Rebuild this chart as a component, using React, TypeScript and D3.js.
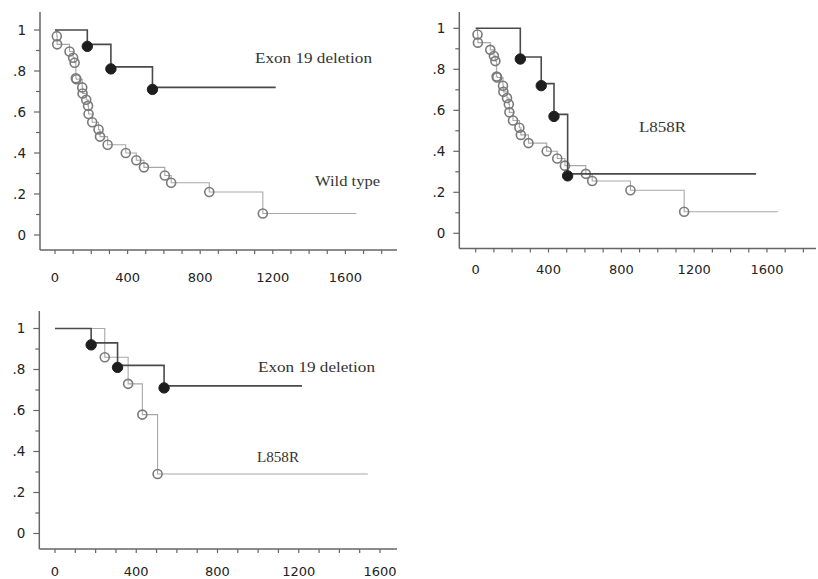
import React, { useEffect, useRef } from "react";
import * as d3 from "d3";

// survival curves (days, cumulative survival)
const wildTimes = [10, 12, 80, 100, 108, 115, 118, 150, 152, 172, 182, 185, 205, 240, 248, 290, 390, 448, 490, 605, 640, 850, 1145];
const wildSurv = [0.97, 0.93, 0.895, 0.865, 0.84, 0.765, 0.76, 0.72, 0.69, 0.66, 0.63, 0.59, 0.55, 0.515, 0.48, 0.44, 0.4, 0.365, 0.33, 0.29, 0.255, 0.21, 0.105];
const wildEnd = 1660;

const exonTimes = [178, 308, 537];
const exonSurv = [0.93, 0.82, 0.72];
const exonEnd = 1216;

const l858Times = [245, 360, 430, 505];
const l858Surv = [0.86, 0.73, 0.58, 0.29];
const l858End = 1540;

const yTicks = d3.range(0, 11).map(i => i / 10);
const yLabels = [0, 0.2, 0.4, 0.6, 0.8, 1];
const xLabels = [0, 400, 800, 1200, 1600];

const fmtY = (v: number) => (v === 0 ? "0" : v === 1 ? "1" : String(v).replace(/^0/, ""));

const DARK = "#4a4a4a";
const GREY = "#a8a8a8";

type Curve = { times: number[]; surv: number[]; end: number; style: "filled" | "open" | "openGrey" };
type Label = { text: string; x: number; y: number; w: number };

const panels = [
  {
    xMax: 1800, xr: [55, 381.7], axX: [40, 397], yr: [235, 30], axYTop: 12, axYBottom: 250, xLabY: 282,
    curves: [
      { times: wildTimes, surv: wildSurv, end: wildEnd, style: "open" },
      { times: exonTimes, surv: exonSurv, end: exonEnd, style: "filled" },
    ] as Curve[],
    labels: [
      { text: "Exon 19 deletion", x: 255, y: 63, w: 117 },
      { text: "Wild type", x: 315, y: 186, w: 65 },
    ] as Label[],
  },
  {
    xMax: 1800, xr: [475.7, 803.4], axX: [459.3, 816], yr: [233.3, 28.3], axYTop: 12, axYBottom: 248.5, xLabY: 274,
    curves: [
      { times: wildTimes, surv: wildSurv, end: wildEnd, style: "open" },
      { times: l858Times, surv: l858Surv, end: l858End, style: "filled" },
    ] as Curve[],
    labels: [{ text: "L858R", x: 639, y: 132, w: 47 }] as Label[],
  },
  {
    xMax: 1600, xr: [55, 380], axX: [39.3, 397], yr: [533.5, 328.5], axYTop: 311, axYBottom: 549, xLabY: 576,
    curves: [
      { times: l858Times, surv: l858Surv, end: l858End, style: "openGrey" },
      { times: exonTimes, surv: exonSurv, end: exonEnd, style: "filled" },
    ] as Curve[],
    labels: [
      { text: "Exon 19 deletion", x: 258, y: 372, w: 117 },
      { text: "L858R", x: 257, y: 462, w: 42 },
    ] as Label[],
  },
];

export default function App() {
  const ref = useRef<SVGSVGElement>(null);

  useEffect(() => {
    const svg = d3.select(ref.current);
    svg.selectAll("*").remove();

    panels.forEach(p => {
      const x = d3.scaleLinear().domain([0, p.xMax]).range(p.xr);
      const y = d3.scaleLinear().domain([0, 1]).range(p.yr);
      const g = svg.append("g");

      // axes
      g.append("line")
        .attr("x1", p.axX[0]).attr("x2", p.axX[1])
        .attr("y1", p.axYBottom).attr("y2", p.axYBottom)
        .attr("stroke", "#666").attr("stroke-width", 1.5);
      g.append("line")
        .attr("x1", p.axX[0]).attr("x2", p.axX[0])
        .attr("y1", p.axYTop).attr("y2", p.axYBottom)
        .attr("stroke", "#666").attr("stroke-width", 1.5);

      g.selectAll(".ytick").data(yTicks).enter().append("line")
        .attr("x1", d => p.axX[0] - (Math.round(d * 10) % 2 === 0 ? 6 : 4))
        .attr("x2", p.axX[0])
        .attr("y1", d => y(d)).attr("y2", d => y(d))
        .attr("stroke", "#666").attr("stroke-width", 1.2);

      g.selectAll(".ylab").data(yLabels).enter().append("text")
        .attr("x", p.axX[0] - 14)
        .attr("y", d => y(d))
        .attr("dy", "0.36em")
        .attr("text-anchor", "end")
        .attr("font-family", "DejaVu Sans, sans-serif")
        .attr("font-size", 13.5)
        .attr("fill", "#222")
        .text(d => fmtY(d));

      const xTicks = d3.range(0, p.xMax + 1, 100);
      g.selectAll(".xtick").data(xTicks).enter().append("line")
        .attr("x1", d => x(d)).attr("x2", d => x(d))
        .attr("y1", p.axYBottom).attr("y2", p.axYBottom + 4)
        .attr("stroke", "#666").attr("stroke-width", 1.2);

      g.selectAll(".xlab").data(xLabels).enter().append("text")
        .attr("x", d => x(d))
        .attr("y", p.xLabY)
        .attr("text-anchor", "middle")
        .attr("font-family", "DejaVu Sans, sans-serif")
        .attr("font-size", 13)
        .attr("fill", "#222")
        .text(d => String(d));

      // curves
      const line = d3.line<[number, number]>()
        .x(d => x(d[0]))
        .y(d => y(d[1]))
        .curve(d3.curveStepAfter);

      p.curves.forEach(c => {
        const pts: [number, number][] = [[0, 1]];
        c.times.forEach((t, i) => pts.push([t, c.surv[i]]));
        pts.push([c.end, c.surv[c.surv.length - 1]]);
        const dark = c.style === "filled";
        g.append("path")
          .attr("d", line(pts))
          .attr("fill", "none")
          .attr("stroke", dark ? DARK : GREY)
          .attr("stroke-width", dark ? 1.6 : 1.1);

        g.selectAll(null).data(c.times).enter().append("circle")
          .attr("cx", (t: number) => x(t))
          .attr("cy", (_: number, i: number) => y(c.surv[i]) + (dark ? 2 : 0))
          .attr("r", dark ? 5.2 : 4.5)
          .attr("fill", dark ? "#1e1e1e" : "none")
          .attr("stroke", dark ? "#1e1e1e" : "#7a7a7a")
          .attr("stroke-width", dark ? 1 : 1.6);
      });

      p.labels.forEach(l => {
        g.append("text")
          .attr("x", l.x)
          .attr("y", l.y)
          .attr("font-family", "Liberation Serif, Times New Roman, serif")
          .attr("font-size", 15)
          .attr("textLength", l.w)
          .attr("lengthAdjust", "spacingAndGlyphs")
          .attr("fill", "#333")
          .text(l.text);
      });
    });
  });

  return (
    <svg
      ref={ref}
      width={818}
      height={579}
      style={{ position: "absolute", left: 0, top: 0, background: "#fff" }}
    />
  );
}
